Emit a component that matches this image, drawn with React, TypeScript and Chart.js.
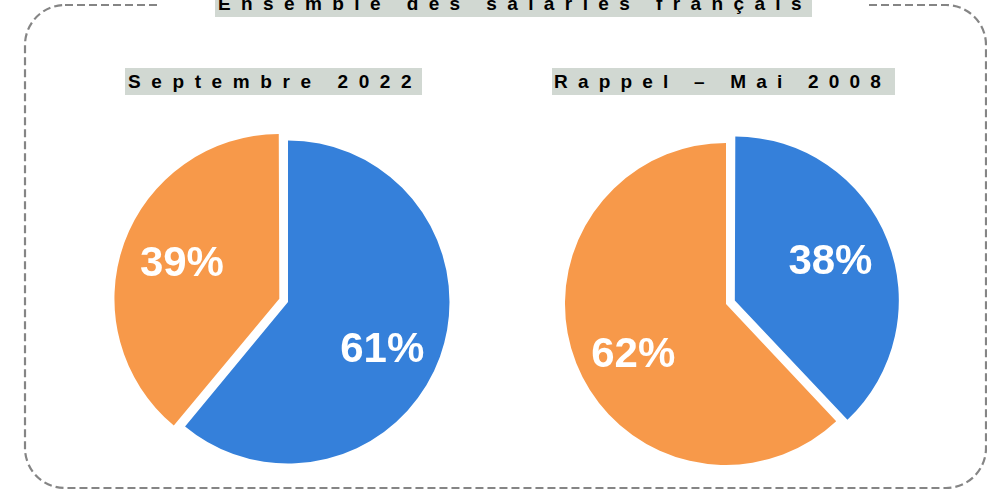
import React, { useEffect, useRef } from "react";
import { Chart, registerables } from "chart.js";

Chart.register(...registerables);

// ---- Data ----
const TITLE = "Ensemble des salariés français";
const SUBTITLES = ["Septembre 2022", "Rappel – Mai 2008"];
const CATEGORIES = ["Part A", "Part B"];
const VALUES_2022 = [61, 39];
const VALUES_2008 = [38, 62];
const COLORS = ["#3580DA", "#F7994A"];
const OFFSETS_2022 = [0, 37];
const OFFSETS_2008 = [38, 0];

const FONT = "'Liberation Sans', Arial, Helvetica, sans-serif";

const pctLabels = {
  id: "pctLabels",
  afterDatasetsDraw(chart: any) {
    const ctx = chart.ctx;
    const meta = chart.getDatasetMeta(0);
    const data = chart.data.datasets[0].data;
    meta.data.forEach((arc: any, i: number) => {
      const p = arc.getProps(["x", "y", "startAngle", "endAngle", "outerRadius", "circumference"], true);
      const off = (arc.options.offset || 0) / 4;
      const mid = (p.startAngle + p.endAngle) / 2;
      const fix = 1 - Math.sin(Math.min(Math.PI, p.circumference || 0));
      const t = off + off * fix;
      const cx = p.x + Math.cos(mid) * t;
      const cy = p.y + Math.sin(mid) * t;
      const lx = cx + Math.cos(mid) * p.outerRadius * 0.62;
      const ly = cy + Math.sin(mid) * p.outerRadius * 0.745;
      ctx.save();
      ctx.fillStyle = "#ffffff";
      ctx.font = `bold 42px ${FONT}`;
      ctx.textAlign = "center";
      ctx.textBaseline = "alphabetic";
      ctx.fillText(`${data[i]}%`, lx, ly + 19);
      ctx.restore();
    });
  },
};

function Pie({ values, offsets, left, top, size }: { values: number[]; offsets: number[]; left: number; top: number; size: number }) {
  const ref = useRef<HTMLCanvasElement | null>(null);
  useEffect(() => {
    if (!ref.current) return;
    const chart = new Chart(ref.current, {
      type: "pie",
      data: {
        labels: CATEGORIES,
        datasets: [
          {
            data: values,
            backgroundColor: COLORS,
            borderWidth: 0,
            offset: offsets,
            hoverOffset: 0,
          },
        ],
      },
      options: {
        animation: false,
        responsive: false,
        maintainAspectRatio: false,
        events: [],
        layout: { padding: 0 },
        plugins: {
          legend: { display: false },
          tooltip: { enabled: false },
          title: { display: false },
        },
      },
      plugins: [pctLabels],
    } as any);
    return () => chart.destroy();
  }, []);
  return (
    <canvas
      ref={ref}
      width={size}
      height={size}
      style={{ position: "absolute", left, top, width: size, height: size }}
    />
  );
}

const boxStyle: React.CSSProperties = {
  position: "absolute",
  background: "#D1D8D2",
  color: "#000",
  fontWeight: "bold",
  fontSize: 19,
  lineHeight: "27px",
  height: 27,
  whiteSpace: "nowrap",
  overflow: "hidden",
  boxSizing: "border-box",
};

export default function App() {
  return (
    <div
      style={{
        position: "absolute",
        left: 0,
        top: 0,
        width: 987,
        height: 490,
        background: "#fff",
        overflow: "hidden",
        fontFamily: FONT,
      }}
    >
      <svg width={987} height={490} style={{ position: "absolute", left: 0, top: 0 }}>
        <rect
          x={25}
          y={5}
          width={961}
          height={483}
          rx={40}
          ry={40}
          fill="none"
          stroke="#858585"
          strokeWidth={2.2}
          strokeDasharray="8 4"
        />
        <rect x={161} y={0} width={705} height={12} fill="#fff" />
      </svg>
      <div style={{ ...boxStyle, left: 215, top: -10, width: 597, paddingLeft: 3, letterSpacing: 10.4 }}>{TITLE}</div>
      <div style={{ ...boxStyle, left: 125, top: 68, width: 297, paddingLeft: 3, letterSpacing: 10.6 }}>{SUBTITLES[0]}</div>
      <div style={{ ...boxStyle, left: 552, top: 68, width: 343, paddingLeft: 2, letterSpacing: 10.2 }}>{SUBTITLES[1]}</div>
      <Pie values={VALUES_2022} offsets={OFFSETS_2022} left={108} top={122} size={360} />
      <Pie values={VALUES_2008} offsets={OFFSETS_2008} left={546} top={124} size={360} />
    </div>
  );
}
